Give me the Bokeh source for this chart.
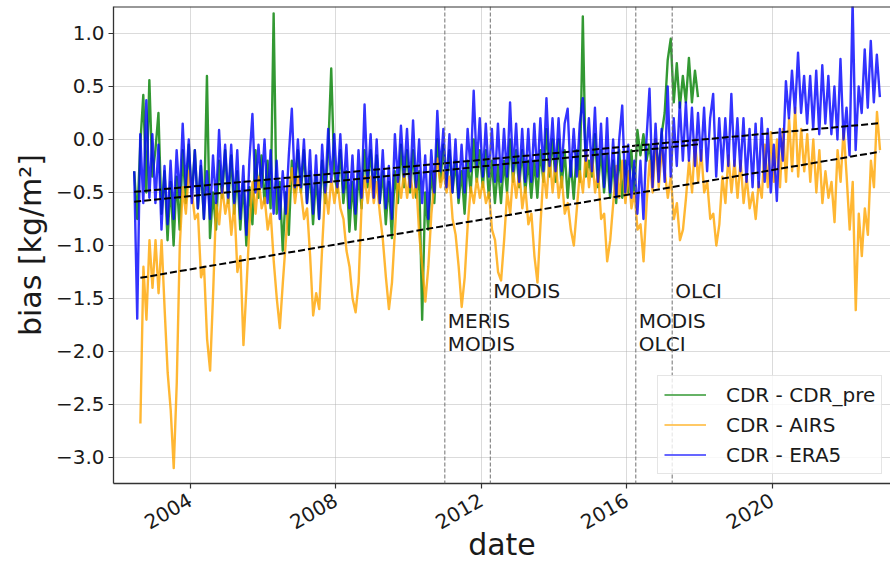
import math
from bokeh.plotting import figure
from bokeh.models import (ColumnDataSource, Span, Legend, LegendItem, FixedTicker,
                          CustomJSTickFormatter)
from bokeh.embed import file_html
from bokeh.resources import INLINE
from bokeh.core.properties import value

# ---------------- data (monthly samples) ----------------
MONTH = 1.0 / 12.0

# CDR - CDR_pre (green), monthly from Jun 2002
green_start = 2002.46
green_vals = [
    -0.3, -0.75, -0.05, 0.42, -0.5, 0.56, -0.35,                              # 2002 Jun-Dec
    -0.1, 0.25, -0.7, -0.3, -0.95, -0.4, -1.0, -0.35, -0.85, -0.1, -0.6, -0.05,   # 2003
    -0.55, -0.1, -0.65, -0.25, -0.75, 0.60, -0.93, -0.5, -0.85, -0.2, -0.55, -0.1,  # 2004
    -0.6, -0.15, -0.7, -0.3, -0.85, -0.4, -1.0, -0.45, -0.8, -0.1, -0.55, -0.15,   # 2005
    -0.6, -0.2, -0.65, 1.19, -0.7, -0.4, -1.05, -0.5, -0.9, -0.2, -0.5, -0.1,      # 2006
    -0.5, -0.1, -0.6, -0.3, -0.8, -0.35, -0.75, -0.2, -0.6, -0.1, 0.67, -0.3,      # 2007
    -0.5, -0.1, -0.6, -0.3, -0.87, -0.4, -0.85, -0.3, -0.65, -0.1, -0.45, -0.1,    # 2008
    -0.55, -0.15, -0.6, -0.3, -0.8, -0.4, -0.93, -0.3, -0.6, -0.05, -0.45, -0.1,   # 2009
    -0.5, -0.1, -0.55, -0.3, -1.70, -0.5, -0.85, -0.3, -0.6, 0.0, -0.4, -0.05,     # 2010
    -0.45, -0.1, -0.5, -0.2, -0.6, -0.3, -0.7, -0.2, -0.5, 0.0, -0.4, -0.1,        # 2011
    -0.45, -0.1, -0.55, -0.2, -0.6, -0.25, -0.6, -0.2, -0.5, 0.0, -0.4, -0.1,      # 2012
    -0.45, -0.1, -0.5, -0.2, -0.55, -0.2, -0.55, -0.1, -0.4, 0.1, -0.35, 0.0,      # 2013
    -0.4, 0.0, -0.45, -0.1, -0.55, -0.2, -0.56, -0.1, -0.4, 1.16, -0.35, -0.2,     # 2014
    -0.35, 0.05, -0.45, -0.1, -0.5, -0.15, -0.55, -0.2, -0.6, -0.1, -0.55, -0.2,   # 2015
    -0.5, -0.1, -0.5, 0.09, -0.15, 0.05, -0.2, -0.05, -0.35, 0.0, -0.3, 0.05,      # 2016
    0.25, 0.75, 0.95, 0.35, 0.72, 0.3, 0.6, 0.35, 0.77, 0.35, 0.65, 0.4,           # 2017
]

# CDR - AIRS (orange), monthly from Aug 2002
orange_start = 2002.63
orange_vals = [
    -2.68, -1.2, -1.7, -0.95, -1.4,                                                # 2002 Aug-Dec
    -0.95, -1.45, -0.95, -1.6, -2.2, -2.55, -3.1, -2.3, -1.0, -0.45, -0.7, -0.3,   # 2003
    -0.5, -0.75, -0.7, -1.3, -1.2, -1.88, -2.18, -1.45, -0.6, -0.8, -0.45, -0.7,   # 2004
    -0.55, -0.9, -0.6, -1.25, -1.1, -1.94, -1.4, -0.8, -0.4, -0.7, -0.35, -0.65,   # 2005
    -0.55, -0.85, -0.7, -1.15, -1.5, -1.78, -1.35, -0.95, -0.5, -0.27, -0.6, -0.35,  # 2006
    -0.5, -0.75, -0.65, -1.1, -1.66, -1.45, -1.6, -1.0, -0.45, -0.7, -0.37, -0.6,  # 2007
    -0.4, -0.65, -0.75, -1.05, -1.2, -1.5, -1.63, -1.35, -0.6, -0.35, -0.6, -0.35,  # 2008
    -0.6, -0.4, -0.7, -0.95, -1.3, -1.6, -1.35, -0.85, -0.35, -0.55, -0.3, -0.55,  # 2009
    -0.3, -0.55, -0.4, -0.9, -1.2, -1.53, -1.2, -0.7, -0.4, -0.18, -0.45, -0.3,    # 2010
    -0.5, -0.35, -0.75, -0.9, -1.2, -1.58, -1.3, -0.8, -0.45, -0.6, -0.37, -0.55,  # 2011
    -0.4, -0.6, -0.5, -0.85, -0.95, -1.25, -1.33, -0.95, -0.5, -0.7, -0.3, -0.55,  # 2012
    -0.3, -0.65, -0.45, -0.8, -0.7, -1.1, -1.35, -0.8, -0.3, -0.55, -0.15, -0.5,   # 2013
    -0.2, -0.55, -0.35, -0.7, -0.6, -0.85, -1.0, -0.65, -0.3, -0.5, -0.1, -0.45,   # 2014
    -0.15, -0.5, -0.3, -0.75, -0.7, -1.15, -0.95, -0.6, -0.25, -0.55, -0.2, -0.6,  # 2015
    -0.3, -0.65, -0.5, -0.85, -0.8, -1.15, -0.6, -0.2, -0.5, 0.0, -0.45, -0.1,     # 2016
    -0.3, -0.55, -0.35, -0.75, -0.6, -0.95, -0.85, -0.55, -0.2, -0.5, 0.0, -0.4,   # 2017
    -0.1, -0.5, -0.4, -0.75, -0.7, -1.0, -0.8, -0.35, -0.6, -0.15, -0.5, -0.2,     # 2018
    -0.55, -0.2, -0.6, -0.35, -0.65, -0.5, -0.75, -0.4, -0.55, -0.05, -0.45, 0.07,  # 2019
    -0.4, 0.0, -0.45, 0.1, -0.4, 0.2, -0.3, 0.3, -0.35, 0.1, -0.3, 0.05,           # 2020
    -0.4, 0.0, -0.5, -0.1, -0.6, -0.3, -0.55, -0.4, -0.78, -0.1, -0.4, 0.1,        # 2021
    -0.35, -0.85, -0.4, -1.61, -0.7, -1.1, -0.65, -0.9, -0.2, -0.45, 0.26, -0.1,   # 2022
]

# CDR - ERA5 (blue), monthly from Jun 2002
blue_start = 2002.46
blue_vals = [
    -0.3, -1.69, 0.05, -0.6, 0.37, -0.55, 0.05,                                    # 2002 Jun-Dec
    -0.6, -0.05, -0.85, -0.25, -0.8, -0.2, -0.75, -0.1, -0.55, 0.15, -0.45, 0.0,   # 2003
    -0.6, -0.1, -0.65, -0.2, -0.75, -0.3, -0.75, -0.15, -0.6, 0.09, -0.5, -0.05,   # 2004
    -0.55, -0.05, -0.6, -0.1, -0.75, -0.25, -0.9, -0.2, 0.24, -0.5, -0.05, -0.45,  # 2005
    0.0, -0.6, -0.1, -0.7, -0.2, -0.75, -0.3, -0.7, -0.15, 0.29, -0.45, 0.0,       # 2006
    -0.45, 0.0, -0.6, -0.1, -0.7, -0.15, -0.75, -0.05, -0.5, 0.1, -0.4, 0.05,      # 2007
    -0.45, 0.05, -0.5, -0.05, -0.65, -0.15, -0.7, -0.1, -0.55, 0.33, -0.4, 0.05,   # 2008
    -0.55, 0.0, -0.6, -0.1, -0.65, -0.25, -0.75, 0.05, -0.4, 0.13, -0.35, 0.1,     # 2009
    -0.45, 0.18, -0.45, 0.0, -0.6, -0.15, -0.75, -0.1, -0.5, 0.27, -0.3, 0.1,      # 2010
    -0.45, 0.05, -0.5, 0.0, -0.55, -0.05, -0.5, 0.1, -0.3, 0.46, -0.25, 0.2,       # 2011
    -0.35, 0.15, -0.35, 0.1, -0.4, 0.15, -0.4, 0.1, -0.35, 0.35, -0.3, 0.15,       # 2012
    -0.4, 0.1, -0.4, 0.1, -0.4, 0.15, -0.35, 0.2, -0.3, 0.39, -0.25, 0.2,          # 2013
    -0.3, 0.2, -0.3, 0.15, 0.29, -0.35, 0.1, -0.35, 0.15, 0.39, -0.2, 0.2,         # 2014
    -0.3, 0.3, -0.4, 0.15, -0.45, 0.2, -0.5, 0.0, -0.55, 0.0, 0.32, -0.5,          # 2015
    -0.05, -0.55, -0.2, -0.7, -0.2, -0.75, 0.0, 0.48, -0.45, 0.15, -0.4, 0.1,      # 2016
    -0.4, 0.5, -0.35, 0.2, -0.25, 0.35, -0.2, 0.35, -0.2, 0.3, -0.25, 0.25,        # 2017
    -0.2, 0.3, -0.3, 0.2, 0.43, -0.35, 0.2, -0.3, 0.2, -0.25, 0.43, -0.25,         # 2018
    0.2, -0.3, 0.2, -0.4, 0.1, -0.45, 0.15, -0.45, 0.2, -0.4, 0.1, -0.5,           # 2019
    -0.05, -0.58, 0.1, -0.2, 0.55, 0.2, 0.65, 0.25, 0.82, 0.25, 0.6, 0.15,         # 2020
    0.6, 0.1, 0.65, 0.05, 0.7, 0.15, 0.6, 0.05, 0.5, 0.0, 0.76, 0.0,               # 2021
    0.3, -0.15, 1.3, -0.1, 0.5, 0.25, 0.85, 0.3, 0.93, 0.35, 0.8, 0.4,             # 2022
]

# linear trends (end points)
trend_green_x = [2002.46, 2017.96]
trend_green_y = [-0.588, -0.046]
trend_orange_x = [2002.63, 2022.96]
trend_orange_y = [-1.305, -0.115]
trend_blue_x = [2002.46, 2022.96]
trend_blue_y = [-0.494, 0.154]

# sensor changes
sensor_change_years = [2011.0, 2012.25, 2016.25, 2017.25]
annot_x = [2011.0, 2011.0, 2012.25, 2016.25, 2016.25, 2017.25]
annot_y = [-1.777, -2.0, -1.5, -1.777, -2.0, -1.5]
annot_text = ["MERIS", "MODIS", "MODIS", "MODIS", "OLCI", "OLCI"]

x_ticks = [2004, 2008, 2012, 2016, 2020]
y_ticks = [-3.0, -2.5, -2.0, -1.5, -1.0, -0.5, 0.0, 0.5, 1.0]

series_labels = ["CDR - CDR_pre", "CDR - AIRS", "CDR - ERA5"]
series_colors = ["#008000", "#ffa500", "#0000ff"]

X_RANGE = (2001.891, 2023.252)
Y_RANGE = (-3.2453, 1.2547)


def monthly(start, vals):
    return [start + i * MONTH for i in range(len(vals))]


FONT = "DejaVu Sans"

p = figure(width=890, height=569,
           x_range=X_RANGE, y_range=Y_RANGE,
           output_backend="svg", toolbar_location=None,
           min_border_left=113, min_border_right=0, min_border_top=6, min_border_bottom=86,
           background_fill_color="white", border_fill_color="white")
p.outline_line_color = None

# grid
p.grid.grid_line_color = "#b0b0b0"
p.grid.grid_line_alpha = 0.45
p.grid.grid_line_width = 1

# data lines
LW = 2.4
sources = [
    ColumnDataSource(dict(x=monthly(green_start, green_vals), y=green_vals)),
    ColumnDataSource(dict(x=monthly(orange_start, orange_vals), y=orange_vals)),
    ColumnDataSource(dict(x=monthly(blue_start, blue_vals), y=blue_vals)),
]
for src, col in zip(sources, series_colors):
    p.line("x", "y", source=src, line_color=col, line_alpha=0.8,
           line_width=LW, line_join="round")

# thin, undrawn proxies used only for the legend swatches
nan = float("nan")
proxies = [p.line(x=[nan], y=[nan], line_color=col, line_alpha=0.8, line_width=1.6)
           for col in series_colors]

# trends
for tx, ty in [(trend_green_x, trend_green_y), (trend_orange_x, trend_orange_y),
               (trend_blue_x, trend_blue_y)]:
    p.line(tx, ty, line_color="black", line_width=2, line_dash="7 3")

# sensor change lines
for yr in sensor_change_years:
    p.add_layout(Span(location=yr, dimension="height", line_color="#707070",
                      line_width=1, line_dash="4 2"))

p.text(x=annot_x, y=annot_y, text=annot_text, text_font=value(FONT),
       text_font_size="20px", text_baseline="alphabetic", text_align="left",
       x_offset=3, y_offset=-7, text_color="#1a1a1a")

# top spine
p.add_layout(Span(location=Y_RANGE[1], dimension="width", line_color="#333333", line_width=2))

# axes
for ax in (p.xaxis[0], p.yaxis[0]):
    ax.axis_line_color = "#333333"
    ax.axis_line_width = 1.3
    ax.major_tick_line_color = "#333333"
    ax.major_tick_line_width = 1.2
    ax.major_tick_out = 5
    ax.major_tick_in = 0
    ax.minor_tick_line_color = None
    ax.major_label_text_font = FONT
    ax.major_label_text_font_size = "20px"
    ax.major_label_text_color = "#1a1a1a"
    ax.axis_label_text_font = FONT
    ax.axis_label_text_font_size = "30px"
    ax.axis_label_text_font_style = "normal"
    ax.axis_label_text_color = "#1a1a1a"

p.xaxis.ticker = FixedTicker(ticks=x_ticks)
p.xaxis.formatter = CustomJSTickFormatter(code="return tick.toFixed(0);")
p.xaxis.major_label_orientation = math.pi / 6
p.xaxis.major_label_standoff = 10
p.xaxis.axis_label = "date"
p.xaxis.axis_label_standoff = -12

p.yaxis.ticker = FixedTicker(ticks=y_ticks)
p.yaxis.formatter = CustomJSTickFormatter(code="return tick.toFixed(1).replace('-', '\u2212');")
p.yaxis.major_label_standoff = 4
p.yaxis.axis_label = "bias [kg/m²]"
p.yaxis.axis_label_standoff = 5

legend = Legend(items=[LegendItem(label=lbl, renderers=[r])
                       for lbl, r in zip(series_labels, proxies)],
                location=(544, 9))
legend.label_text_font = FONT
legend.label_text_font_size = "20px"
legend.label_text_color = "#1a1a1a"
legend.glyph_width = 42
legend.glyph_height = 25
legend.label_height = 25
legend.label_standoff = 20
legend.padding = 6
legend.spacing = 5
legend.margin = 0
legend.border_line_color = "#cccccc"
legend.border_line_width = 1
legend.background_fill_color = "white"
legend.background_fill_alpha = 0.8
p.add_layout(legend)

open("out.html", "w").write(file_html(p, INLINE))
